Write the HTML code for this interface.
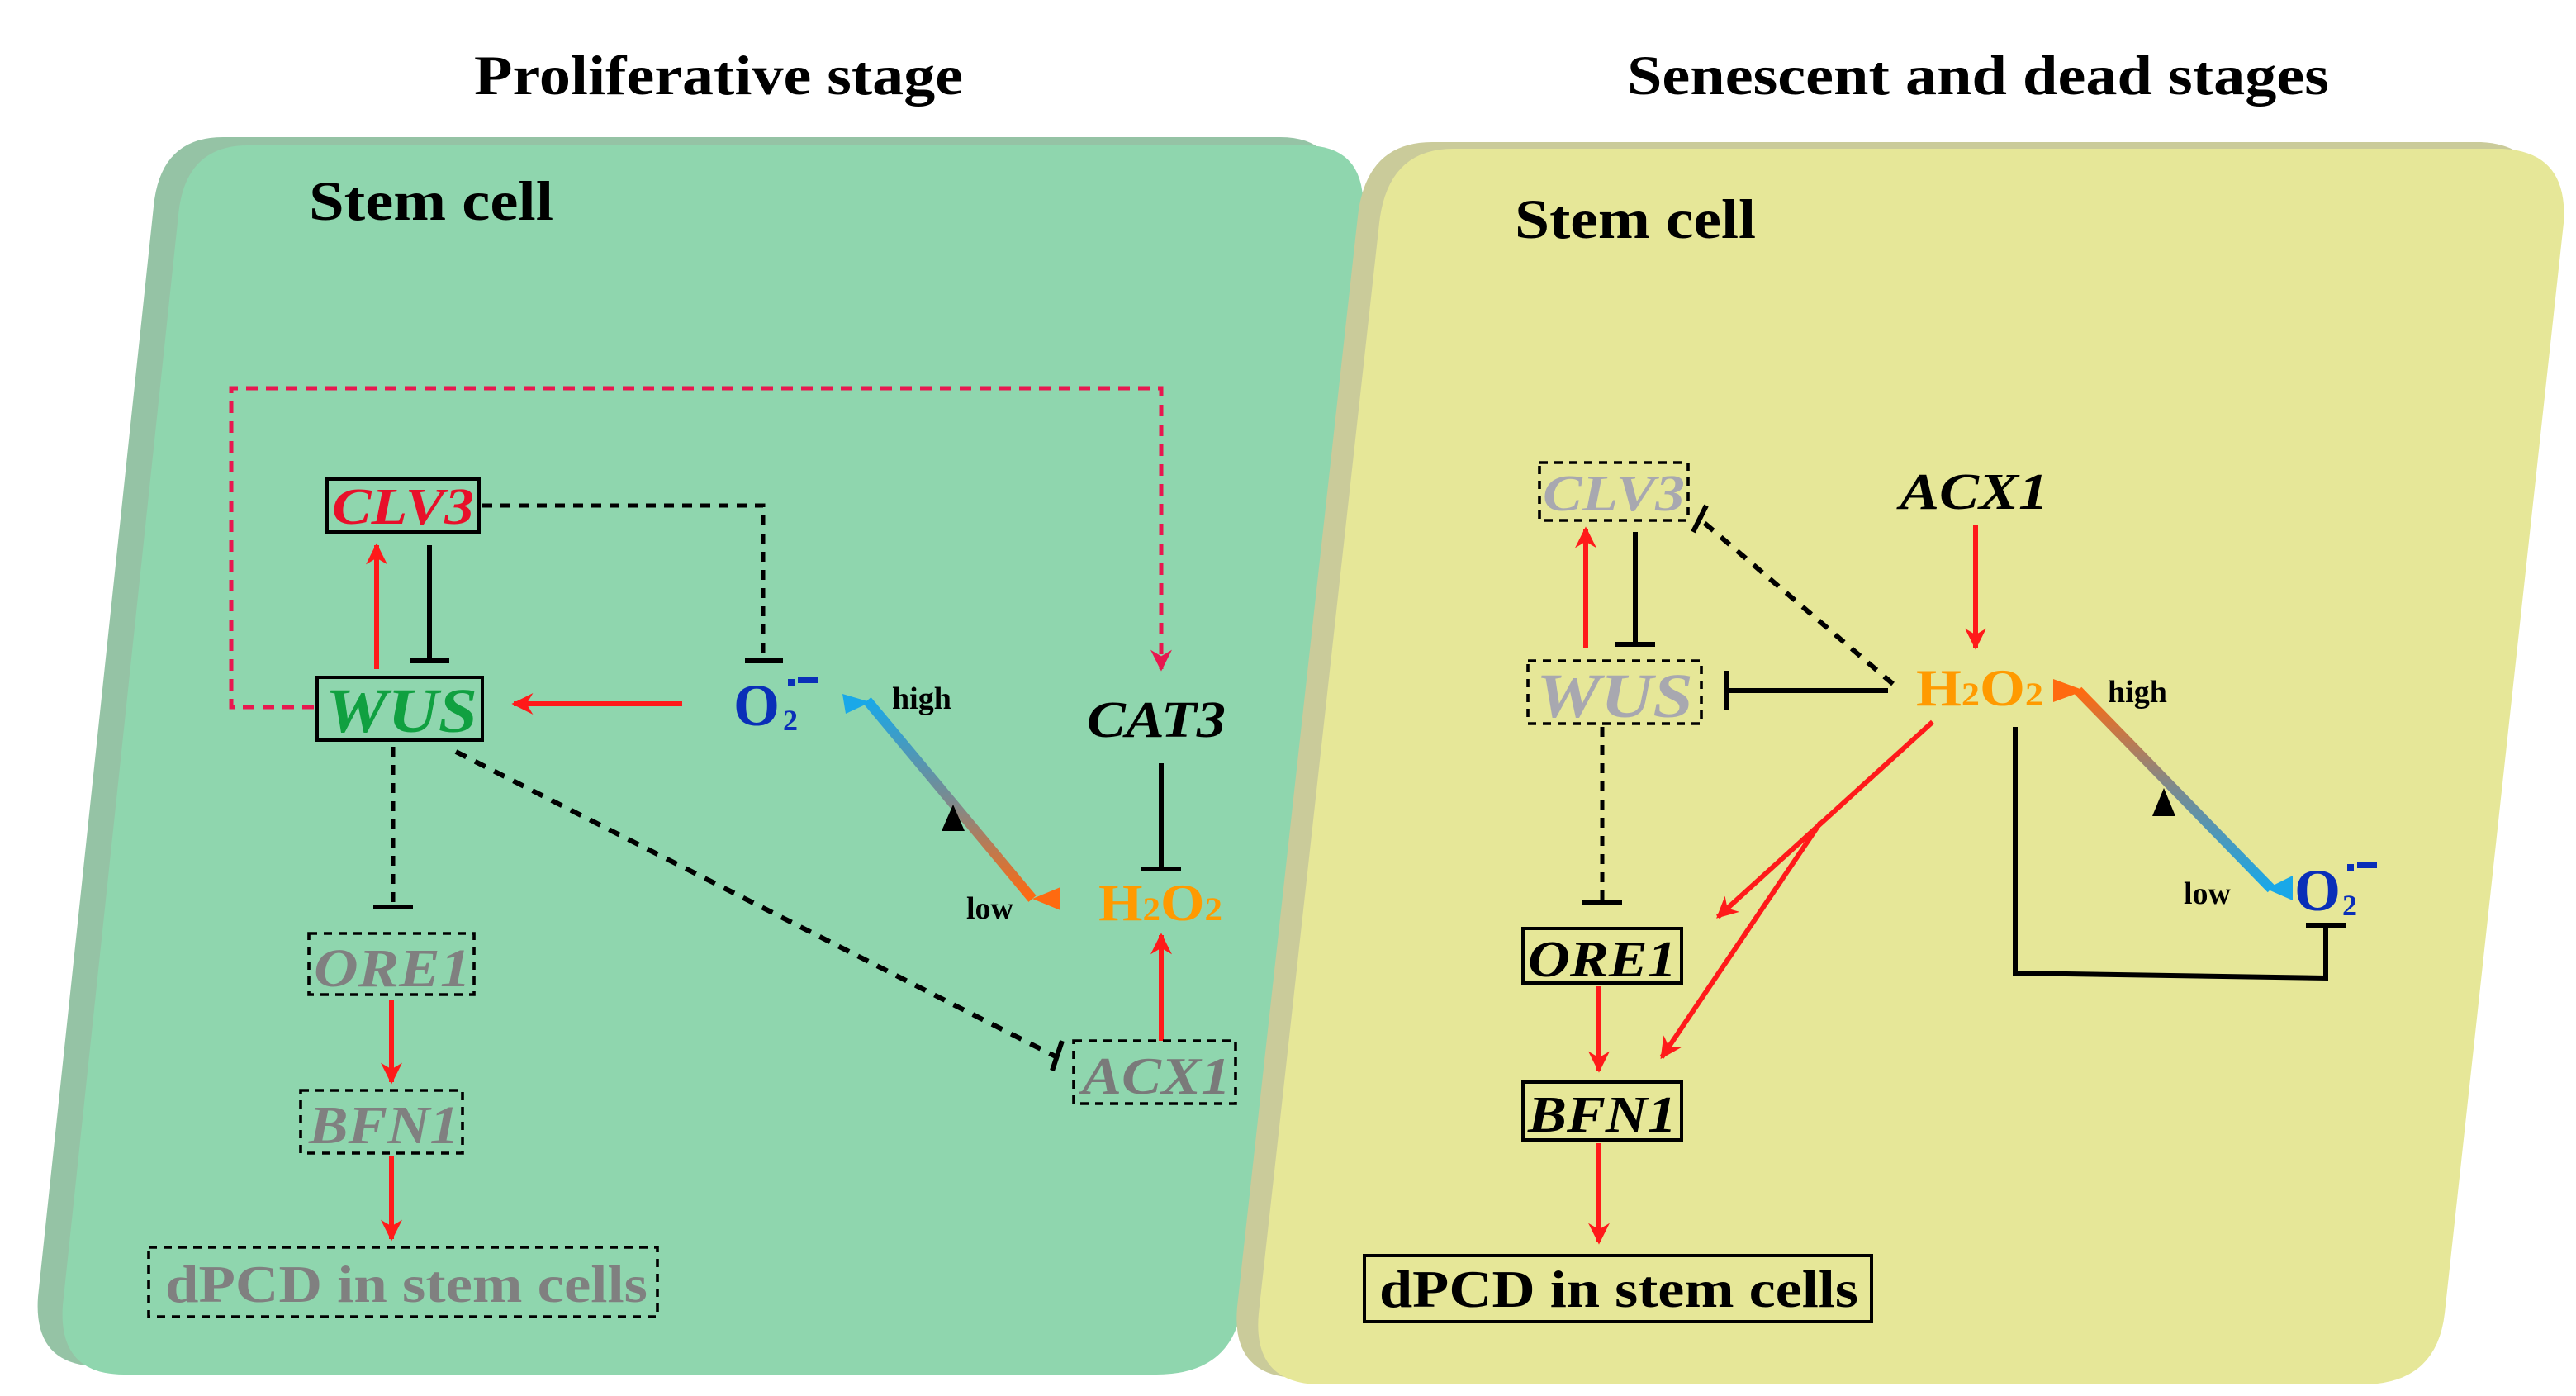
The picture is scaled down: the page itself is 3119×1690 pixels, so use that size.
<!DOCTYPE html>
<html><head><meta charset="utf-8"><style>
html,body{margin:0;padding:0;background:#fff;}
svg{display:block;}
text{font-family:"Liberation Serif",serif;font-weight:bold;}
</style></head><body>
<svg width="3119" height="1690" viewBox="0 0 1559.5 845" xmlns="http://www.w3.org/2000/svg">
<defs>
<marker id="ar" viewBox="0 0 10 10" refX="9" refY="5" markerWidth="15" markerHeight="13" orient="auto" markerUnits="userSpaceOnUse"><path d="M0,0 L10,5 L0,10 L3,5 Z" fill="#ff1a1a"/></marker>
<marker id="arp" viewBox="0 0 10 10" refX="9" refY="5" markerWidth="15" markerHeight="13" orient="auto" markerUnits="userSpaceOnUse"><path d="M0,0 L10,5 L0,10 L3,5 Z" fill="#e8174f"/></marker>
<linearGradient id="g1" x1="0" y1="0" x2="0" y2="1"><stop offset="0" stop-color="#19a8e8"/><stop offset="0.5" stop-color="#7a8a90"/><stop offset="1" stop-color="#ff6a10"/></linearGradient>
<linearGradient id="g2" x1="0" y1="0" x2="0" y2="1"><stop offset="0" stop-color="#ff6a10"/><stop offset="0.5" stop-color="#7a8a90"/><stop offset="1" stop-color="#19a8e8"/></linearGradient>
</defs>
<text x="287" y="57" font-size="34" textLength="296" lengthAdjust="spacingAndGlyphs">Proliferative stage</text>
<text x="985" y="57" font-size="34" textLength="425" lengthAdjust="spacingAndGlyphs">Senescent and dead stages</text>

<path transform="translate(-15,-5)" d="M150,88 L790,88 Q828,88 825,130 L752,790 Q746,832 700,832 L75,832 Q35,832 38,790 L108,130 Q112,88 150,88 Z" fill="#95c3a5"/>
<path d="M150,88 L790,88 Q828,88 825,130 L752,790 Q746,832 700,832 L75,832 Q35,832 38,790 L108,130 Q112,88 150,88 Z" fill="#8fd6ae"/>
<path transform="translate(-13,-4)" d="M880,90 L1515,90 Q1555,92 1552,135 L1480,795 Q1475,838 1430,838 L800,838 Q758,838 762,795 L835,135 Q840,90 880,90 Z" fill="#cacb9a"/>
<path d="M880,90 L1515,90 Q1555,92 1552,135 L1480,795 Q1475,838 1430,838 L800,838 Q758,838 762,795 L835,135 Q840,90 880,90 Z" fill="#e6e798"/>

<!-- LEFT -->
<text x="187" y="133" font-size="34" textLength="148" lengthAdjust="spacingAndGlyphs">Stem cell</text>
<polyline points="190,428 140,428 140,235 703,235 703,405" fill="none" stroke="#e8174f" stroke-width="2.5" stroke-dasharray="7,5" marker-end="url(#arp)"/>
<rect x="198" y="290" width="92" height="32" fill="none" stroke="#000" stroke-width="2"/>
<text x="201" y="317" font-size="31" font-style="italic" fill="#e8102a" textLength="86" lengthAdjust="spacingAndGlyphs">CLV3</text>
<rect x="192" y="410" width="100" height="38" fill="none" stroke="#000" stroke-width="2"/>
<text x="197" y="443" font-size="38" font-style="italic" fill="#10a040" textLength="92" lengthAdjust="spacingAndGlyphs">WUS</text>
<line x1="228" y1="405" x2="228" y2="330" stroke="#ff1a1a" stroke-width="3" marker-end="url(#ar)"/>
<line x1="260" y1="330" x2="260" y2="400" stroke="#000" stroke-width="3"/><line x1="248" y1="400" x2="272" y2="400" stroke="#000" stroke-width="3"/>
<polyline points="292,306 462,306 462,400" fill="none" stroke="#000" stroke-width="2.5" stroke-dasharray="6,5"/><line x1="451" y1="400" x2="474" y2="400" stroke="#000" stroke-width="3"/>
<text x="444" y="439" font-size="36" fill="#0a2fb8">O</text>
<text x="474" y="442" font-size="18" fill="#0a2fb8">2</text>
<rect x="477" y="411" width="4" height="4" fill="#0a2fb8"/><rect x="483" y="410" width="12" height="3.5" fill="#0a2fb8"/>
<line x1="413" y1="426" x2="311" y2="426" stroke="#ff1a1a" stroke-width="3" marker-end="url(#ar)"/>
<path d="M525,424 L625,544" stroke="url(#g1)" stroke-width="6" fill="none"/>
<path d="M510,420 L527,425 L512,432 Z" fill="#19a8e8"/>
<path d="M625,544 L642,537 L642,551 Z" fill="#ff6a10"/>
<path d="M577,487 L584,503 L570,503 Z" fill="#000"/>
<text x="540" y="429" font-size="19">high</text>
<text x="585" y="556" font-size="19">low</text>
<text x="658" y="446" font-size="31" font-style="italic" textLength="84" lengthAdjust="spacingAndGlyphs">CAT3</text>
<line x1="703" y1="462" x2="703" y2="526" stroke="#000" stroke-width="3"/><line x1="691" y1="526" x2="715" y2="526" stroke="#000" stroke-width="3"/>
<text x="665" y="557" font-size="32" fill="#ff9a00" textLength="75" lengthAdjust="spacingAndGlyphs">H<tspan font-size="20">2</tspan>O<tspan font-size="20">2</tspan></text>
<line x1="703" y1="630" x2="703" y2="566" stroke="#ff1a1a" stroke-width="3" marker-end="url(#ar)"/>
<rect x="650" y="630" width="98" height="38" fill="none" stroke="#000" stroke-width="1.8" stroke-dasharray="5,4"/>
<text x="655" y="662" font-size="32" font-style="italic" fill="#7a7a7a" textLength="90" lengthAdjust="spacingAndGlyphs">ACX1</text>
<line x1="276" y1="455" x2="640" y2="640" stroke="#000" stroke-width="3" stroke-dasharray="7,6"/>
<line x1="643" y1="630" x2="637" y2="648" stroke="#000" stroke-width="3"/>
<line x1="238" y1="452" x2="238" y2="548" stroke="#000" stroke-width="2.5" stroke-dasharray="6,5"/><line x1="226" y1="549" x2="250" y2="549" stroke="#000" stroke-width="3"/>
<rect x="187" y="565" width="100" height="37" fill="none" stroke="#000" stroke-width="1.8" stroke-dasharray="5,4"/>
<text x="190" y="597" font-size="33" font-style="italic" fill="#808080" textLength="95" lengthAdjust="spacingAndGlyphs">ORE1</text>
<line x1="237" y1="605" x2="237" y2="655" stroke="#ff1a1a" stroke-width="3" marker-end="url(#ar)"/>
<rect x="182" y="660" width="98" height="38" fill="none" stroke="#000" stroke-width="1.8" stroke-dasharray="5,4"/>
<text x="187" y="692" font-size="33" font-style="italic" fill="#808080" textLength="91" lengthAdjust="spacingAndGlyphs">BFN1</text>
<line x1="237" y1="700" x2="237" y2="750" stroke="#ff1a1a" stroke-width="3" marker-end="url(#ar)"/>
<rect x="90" y="755" width="308" height="42" fill="none" stroke="#000" stroke-width="1.8" stroke-dasharray="5,4"/>
<text x="100" y="788" font-size="32" fill="#808080" textLength="292" lengthAdjust="spacingAndGlyphs">dPCD in stem cells</text>

<!-- RIGHT -->
<text x="917" y="144" font-size="34" textLength="146" lengthAdjust="spacingAndGlyphs">Stem cell</text>
<rect x="932" y="280" width="90" height="35" fill="none" stroke="#000" stroke-width="1.8" stroke-dasharray="5,4"/>
<text x="934" y="309" font-size="31" font-style="italic" fill="#a8a8b0" textLength="86" lengthAdjust="spacingAndGlyphs">CLV3</text>
<rect x="925" y="400" width="105" height="38" fill="none" stroke="#000" stroke-width="1.8" stroke-dasharray="5,4"/>
<text x="930" y="434" font-size="38" font-style="italic" fill="#a8a8b0" textLength="95" lengthAdjust="spacingAndGlyphs">WUS</text>
<line x1="960" y1="392" x2="960" y2="320" stroke="#ff1a1a" stroke-width="3" marker-end="url(#ar)"/>
<line x1="990" y1="322" x2="990" y2="390" stroke="#000" stroke-width="3"/><line x1="978" y1="390" x2="1002" y2="390" stroke="#000" stroke-width="3"/>
<line x1="1146" y1="414" x2="1030" y2="315" stroke="#000" stroke-width="3" stroke-dasharray="7,6"/>
<line x1="1033" y1="306" x2="1025" y2="322" stroke="#000" stroke-width="3"/>
<text x="1150" y="308" font-size="31" font-style="italic" textLength="90" lengthAdjust="spacingAndGlyphs">ACX1</text>
<line x1="1196" y1="318" x2="1196" y2="392" stroke="#ff1a1a" stroke-width="3" marker-end="url(#ar)"/>
<text x="1160" y="427" font-size="32" fill="#ff9a00" textLength="77" lengthAdjust="spacingAndGlyphs">H<tspan font-size="20">2</tspan>O<tspan font-size="20">2</tspan></text>
<line x1="1143" y1="418" x2="1045" y2="418" stroke="#000" stroke-width="3"/><line x1="1045" y1="406" x2="1045" y2="430" stroke="#000" stroke-width="3"/>
<path d="M1258,418 L1375,538" stroke="url(#g2)" stroke-width="6" fill="none"/>
<path d="M1243,411 L1262,418 L1243,425 Z" fill="#ff6a10"/>
<path d="M1372,538 L1388,530 L1388,545 Z" fill="#19a8e8"/>
<path d="M1310,477 L1317,494 L1303,494 Z" fill="#000"/>
<text x="1276" y="425" font-size="19">high</text>
<text x="1322" y="547" font-size="19">low</text>
<text x="1389" y="551" font-size="36" fill="#0a2fb8">O</text>
<text x="1418" y="554" font-size="18" fill="#0a2fb8">2</text>
<rect x="1421" y="523" width="4" height="4" fill="#0a2fb8"/><rect x="1427" y="522" width="12" height="3.5" fill="#0a2fb8"/>
<polyline points="1220,440 1220,589 1408,592 1408,560" fill="none" stroke="#000" stroke-width="3"/><line x1="1396" y1="560" x2="1420" y2="560" stroke="#000" stroke-width="3"/>
<line x1="1170" y1="437" x2="1040" y2="555" stroke="#ff1a1a" stroke-width="3" marker-end="url(#ar)"/>
<line x1="1102" y1="498" x2="1006" y2="640" stroke="#ff1a1a" stroke-width="3" marker-end="url(#ar)"/>
<line x1="970" y1="440" x2="970" y2="545" stroke="#000" stroke-width="2.5" stroke-dasharray="6,5"/><line x1="958" y1="546" x2="982" y2="546" stroke="#000" stroke-width="3"/>
<rect x="922" y="562" width="96" height="33" fill="none" stroke="#000" stroke-width="2"/>
<text x="925" y="591" font-size="31" font-style="italic" textLength="90" lengthAdjust="spacingAndGlyphs">ORE1</text>
<line x1="968" y1="597" x2="968" y2="648" stroke="#ff1a1a" stroke-width="3" marker-end="url(#ar)"/>
<rect x="922" y="655" width="96" height="35" fill="none" stroke="#000" stroke-width="2"/>
<text x="925" y="685" font-size="31" font-style="italic" textLength="90" lengthAdjust="spacingAndGlyphs">BFN1</text>
<line x1="968" y1="692" x2="968" y2="752" stroke="#ff1a1a" stroke-width="3" marker-end="url(#ar)"/>
<rect x="826" y="760" width="307" height="40" fill="none" stroke="#000" stroke-width="2"/>
<text x="835" y="791" font-size="32" textLength="290" lengthAdjust="spacingAndGlyphs">dPCD in stem cells</text>
</svg>
</body></html>
